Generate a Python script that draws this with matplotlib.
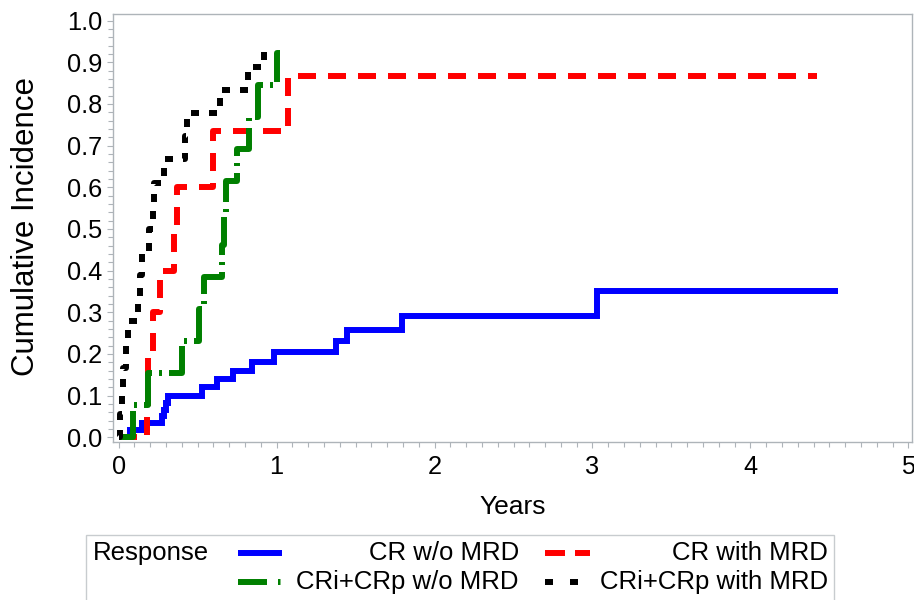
import matplotlib.pyplot as plt
from matplotlib.lines import Line2D
from matplotlib.patches import Rectangle
from matplotlib.ticker import MultipleLocator, FormatStrFormatter

plt.rcParams['font.family'] = ['Liberation Sans', 'DejaVu Sans']
plt.rcParams['lines.scale_dashes'] = False

# cumulative incidence step curves, time in years
cr_no_mrd_t = [0, 0.072, 0.146, 0.275, 0.29, 0.30, 0.315, 0.526, 0.625, 0.726, 0.842,
               0.982, 1.376, 1.444, 1.792, 3.03, 4.556]
cr_no_mrd_y = [0, 0.0175, 0.034, 0.05, 0.066, 0.082, 0.100, 0.120, 0.140, 0.160, 0.181,
               0.204, 0.231, 0.258, 0.290, 0.351, 0.351]

cr_mrd_t = [0, 0.177, 0.186, 0.215, 0.26, 0.35, 0.367, 0.60, 1.074, 4.42]
cr_mrd_y = [0, 0.070, 0.200, 0.300, 0.400, 0.500, 0.600, 0.734, 0.867, 0.867]

cri_no_mrd_t = [0, 0.093, 0.186, 0.40, 0.51, 0.54, 0.655, 0.665, 0.68, 0.75, 0.825,
                0.885, 1.0, 1.02]
cri_no_mrd_y = [0, 0.077, 0.154, 0.231, 0.308, 0.385, 0.462, 0.538, 0.615, 0.692, 0.769,
                0.846, 0.923, 0.923]

cri_mrd_t = [0, 0.01, 0.02, 0.03, 0.045, 0.06, 0.12, 0.135, 0.145, 0.19, 0.215, 0.225,
             0.29, 0.42, 0.435, 0.64, 0.82, 0.92]
cri_mrd_y = [0, 0.056, 0.111, 0.167, 0.222, 0.278, 0.333, 0.389, 0.444, 0.500, 0.556,
             0.611, 0.667, 0.722, 0.778, 0.833, 0.889, 0.930]

labels = ['CR w/o MRD', 'CR with MRD', 'CRi+CRp w/o MRD', 'CRi+CRp with MRD']
colors = ['#0000FF', '#FF0000', '#008000', '#000000']


def pt(px):
    # pixel lengths to points at 100 dpi
    return px * 0.72


W, H = 914, 600
fig = plt.figure(figsize=(W / 100, H / 100), dpi=100)
ax = fig.add_axes([113 / W, 1 - 442.3 / H, (912 - 113) / W, (442.3 - 14) / H])

lw = 4.3
styles = [
    dict(linestyle='-'),
    dict(dashes=(pt(18), pt(12))),
    dict(dashes=(pt(40), pt(7), pt(3), pt(7))),
    dict(dashes=(pt(8), pt(10))),
]
curves = [(cr_no_mrd_t, cr_no_mrd_y), (cr_mrd_t, cr_mrd_y),
          (cri_no_mrd_t, cri_no_mrd_y), (cri_mrd_t, cri_mrd_y)]
for (t, y), c, st in zip(curves, colors, styles):
    ax.step(t, y, where='post', color=c, lw=lw, solid_capstyle='butt',
            dash_capstyle='butt', solid_joinstyle='miter', **st)

ax.set_xlim(-0.036, 5.023)
ax.set_ylim(-0.012, 1.016)
ax.xaxis.set_major_locator(MultipleLocator(1))
ax.xaxis.set_minor_locator(MultipleLocator(0.1))
ax.yaxis.set_major_locator(MultipleLocator(0.1))
ax.yaxis.set_minor_locator(MultipleLocator(0.02))
ax.yaxis.set_major_formatter(FormatStrFormatter('%.1f'))

frame = '#AEB4B9'
for s in ax.spines.values():
    s.set_color(frame)
    s.set_linewidth(1)
ax.tick_params(which='both', direction='out', color=frame, width=0.8)
ax.tick_params(which='major', length=4, labelsize=18.3)
ax.tick_params(which='minor', length=3.3)
ax.tick_params(axis='x', pad=5)
ax.tick_params(axis='y', pad=4)

ax.set_xlabel('Years', fontsize=19, labelpad=12)
fig.text(25.6 / W, 1 - 226 / H, 'Cumulative Incidence', rotation=90,
         ha='center', va='center', fontsize=22.5)

# legend drawn by hand: title on the left, two rows of entries
fig.add_artist(Rectangle((86 / W, 1 - 601 / H), (834 - 86) / W, (601 - 535) / H,
                         transform=fig.transFigure, fill=False,
                         edgecolor='#C8CCCF', lw=1))
fig.text(93 / W, 1 - 553 / H, 'Response', ha='left', va='center', fontsize=18.5)
legend_dashes = [None, (pt(20), pt(10)), (pt(29), pt(11), pt(2.5), pt(20)), (pt(8), pt(17))]
slots = [(238, 282, 519, 553), (545, 590, 828, 553), (238, 282, 519, 582), (545, 590, 828, 582)]
for lab, c, d, (x0, x1, xt, yy) in zip(labels, colors, legend_dashes, slots):
    ln = Line2D([x0 / W, x1 / W], [1 - yy / H, 1 - yy / H], transform=fig.transFigure,
                color=c, lw=lw, solid_capstyle='butt', dash_capstyle='butt')
    if d is not None:
        ln.set_dashes(d)
    fig.add_artist(ln)
    fig.text(xt / W, 1 - yy / H, lab, ha='right', va='center', fontsize=18.5)

fig.savefig('out.png', dpi=100)
